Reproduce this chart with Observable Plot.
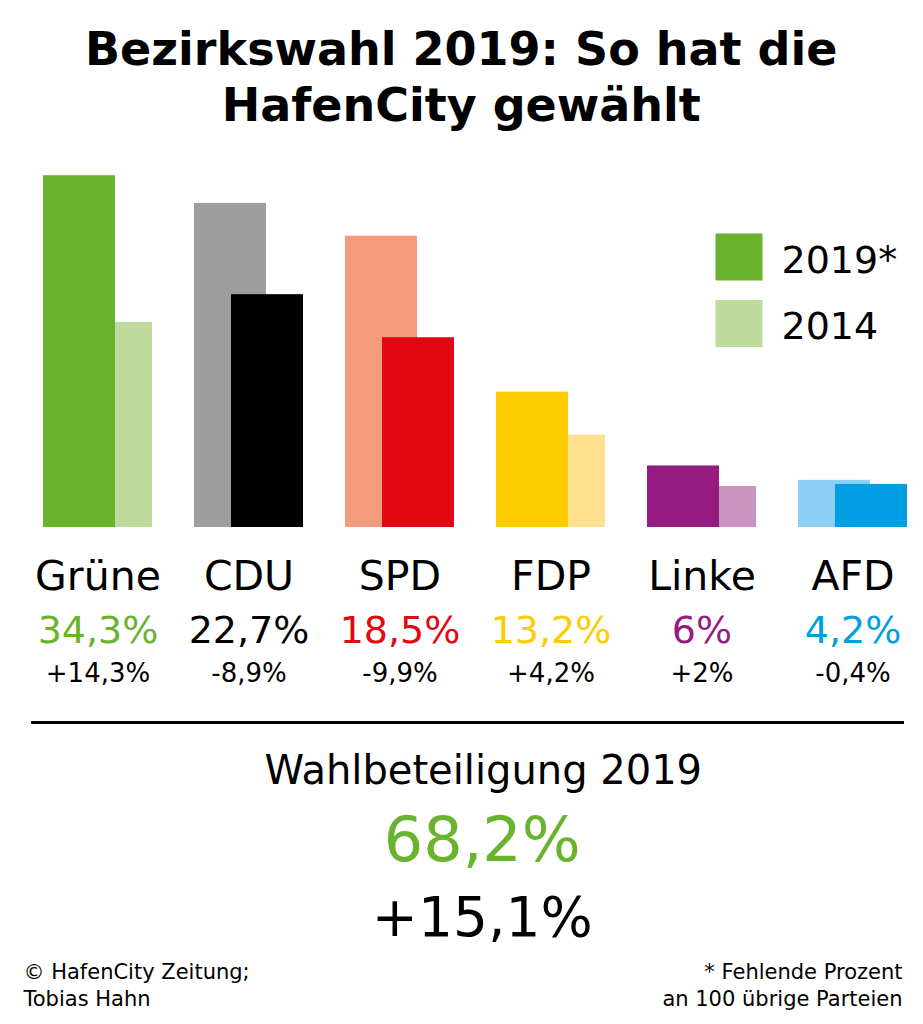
<!DOCTYPE html>
<html>
<head>
<meta charset="utf-8">
<script src="https://cdn.jsdelivr.net/npm/d3@7"></script>
<script src="https://cdn.jsdelivr.net/npm/@observablehq/plot@0.6"></script>
<style>
  html, body { margin: 0; padding: 0; background: #ffffff; }
  #chart svg { display: block; }
</style>
</head>
<body>
<div id="chart"></div>
<script>
// ---------- data ----------
const parties = ["Grüne", "CDU", "SPD", "FDP", "Linke", "AFD"];
const result2019 = [34.3, 22.7, 18.5, 13.2, 6, 4.2];
const result2014 = [20.0, 31.6, 28.4, 9.0, 4.0, 4.6];
const changeLabels = ["+14,3%", "-8,9%", "-9,9%", "+4,2%", "+2%", "-0,4%"];
const colors2019 = ["#6ab42d", "#000000", "#e30613", "#fecc00", "#951b81", "#009ee3"];
const colors2014 = ["#bedb9c", "#9d9d9d", "#f39b7d", "#fee08f", "#c994c1", "#8dcff4"];

const titleText = "Bezirkswahl 2019: So hat die\nHafenCity gewählt";
const legendYears = ["2019*", "2014"];
const legendColors = ["#6ab42d", "#bedb9c"];
const turnoutLabel = "Wahlbeteiligung 2019";
const turnoutValue = "68,2%";
const turnoutChange = "+15,1%";
const sourceText = "© HafenCity Zeitung;\nTobias Hahn";
const noteText = "* Fehlende Prozent\nan 100 übrige Parteien";

// ---------- tables ----------
const fmt = v => String(v).replace(".", ",") + "%";
const bars = [];
parties.forEach((p, i) => {
  const a = result2019[i], b = result2014[i];
  bars.push({party: p, year: 2019, value: a, fill: colors2019[i], left: a >= b});
  bars.push({party: p, year: 2014, value: b, fill: colors2014[i], left: b > a});
});
const labels = parties.map((p, i) => ({
  party: p, result: fmt(result2019[i]), change: changeLabels[i], color: colors2019[i]
}));

const FONT = "DejaVu Sans";

const chart = Plot.plot({
  width: 923,
  height: 1024,
  marginLeft: 41.5,
  marginRight: 15,
  marginTop: 168,
  marginBottom: 497,
  style: {fontFamily: FONT, background: "#ffffff", color: "#000000"},
  x: {type: "band", domain: parties, paddingInner: 0.2805, paddingOuter: 0, axis: null},
  y: {domain: [0, 35], axis: null},
  color: {type: "identity"},
  marks: [
    // 2014 bars behind
    Plot.barY(bars, {filter: d => d.year === 2014 && d.left, x: "party", y: "value", fill: "fill", insetRight: 37}),
    Plot.barY(bars, {filter: d => d.year === 2014 && !d.left, x: "party", y: "value", fill: "fill", insetLeft: 37}),
    // 2019 bars in front
    Plot.barY(bars, {filter: d => d.year === 2019 && d.left, x: "party", y: "value", fill: "fill", insetRight: 37}),
    Plot.barY(bars, {filter: d => d.year === 2019 && !d.left, x: "party", y: "value", fill: "fill", insetLeft: 37}),

    // party names, results, changes
    Plot.text(labels, {x: "party", text: "party", frameAnchor: "bottom", lineAnchor: "bottom", dy: 62, fontSize: 41, fill: "#000000"}),
    Plot.text(labels, {x: "party", text: "result", frameAnchor: "bottom", lineAnchor: "bottom", dy: 115, fontSize: 38, fill: "color"}),
    Plot.text(labels, {x: "party", text: "change", frameAnchor: "bottom", lineAnchor: "bottom", dy: 154, fontSize: 26, fill: "#000000"}),

    // title
    Plot.text([titleText], {frameAnchor: "top", lineAnchor: "bottom", dx: -14, dy: -48, fontSize: 46, fontWeight: "bold", lineHeight: 1.2, fill: "#000000"}),

    // legend
    Plot.dot([legendYears[0]], {frameAnchor: "top-right", dx: -169.5, dy: 88.5, r: 26.5, symbol: "square", fill: legendColors[0]}),
    Plot.dot([legendYears[1]], {frameAnchor: "top-right", dx: -169.5, dy: 155, r: 26.5, symbol: "square", fill: legendColors[1]}),
    Plot.text([legendYears[0]], {frameAnchor: "top-right", textAnchor: "start", lineAnchor: "bottom", dx: -127, dy: 104, fontSize: 38, fill: "#000000"}),
    Plot.text([legendYears[1]], {frameAnchor: "top-right", textAnchor: "start", lineAnchor: "bottom", dx: -127, dy: 170, fontSize: 38, fill: "#000000"}),

    // separator
    Plot.ruleY([0], {dy: 195, strokeWidth: 3, stroke: "#000000", insetLeft: -10.5, insetRight: 4}),

    // turnout
    Plot.text([turnoutLabel], {frameAnchor: "bottom", lineAnchor: "bottom", dx: 8, dy: 256, fontSize: 40, fill: "#000000"}),
    Plot.text([turnoutValue], {frameAnchor: "bottom", lineAnchor: "bottom", dx: 7, dy: 333, fontSize: 62, fill: "#6ab42d"}),
    Plot.text([turnoutChange], {frameAnchor: "bottom", lineAnchor: "bottom", dx: 7, dy: 408, fontSize: 55, fill: "#000000"}),

    // footer
    Plot.text([sourceText], {frameAnchor: "bottom-left", textAnchor: "start", lineAnchor: "bottom", dx: -18.5, dy: 478, fontSize: 21, lineHeight: 1.24, fill: "#000000"}),
    Plot.text([noteText], {frameAnchor: "bottom-right", textAnchor: "end", lineAnchor: "bottom", dx: -6, dy: 478, fontSize: 21, lineHeight: 1.24, fill: "#000000"})
  ]
});
document.getElementById("chart").appendChild(chart);
</script>
</body>
</html>
